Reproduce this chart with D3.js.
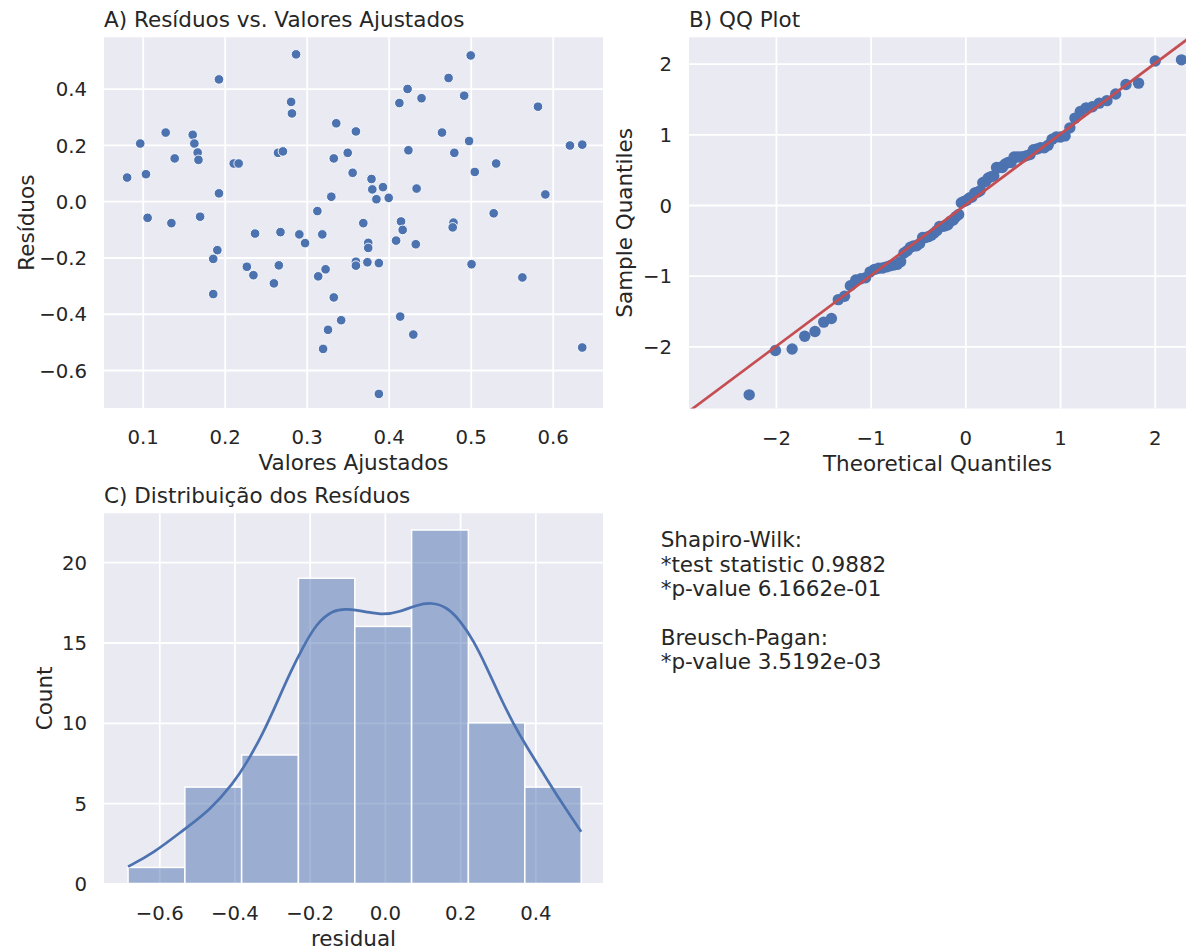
<!DOCTYPE html>
<html>
<head>
<meta charset="utf-8">
<script src="https://cdn.jsdelivr.net/npm/d3@7"></script>
<style>
  body { margin: 0; background: #fff; }
  svg text { font-family: "DejaVu Sans", sans-serif; fill: #262626; }
</style>
</head>
<body>
<svg id="container"></svg>
<script>
const width = 1186;
const height = 949;

// fitted values and residuals
const fitted = [0.081,0.097,0.104,0.106,0.128,0.135,0.139,0.161,0.163,0.167,
  0.168,0.170,0.193,0.193,0.191,0.186,0.186,0.211,0.217,0.227,
  0.235,0.237,0.260,0.265,0.271,0.266,0.268,0.281,0.282,0.287,
  0.291,0.298,0.313,0.319,0.314,0.323,0.320,0.326,0.330,0.333,
  0.336,0.333,0.342,0.350,0.356,0.360,0.360,0.360,0.369,0.375,
  0.375,0.374,0.379,0.380,0.385,0.393,0.400,0.388,0.388,0.409,
  0.413,0.415,0.417,0.423,0.424,0.434,0.433,0.414,0.430,0.440,
  0.465,0.473,0.479,0.478,0.480,0.492,0.498,0.500,0.501,0.505,
  0.528,0.531,0.563,0.582,0.591,0.621,0.636,0.636];
const resid = [0.084,0.205,0.096,-0.059,0.244,-0.078,0.152,0.236,0.205,0.173,
  0.147,-0.055,0.433,0.028,-0.174,-0.205,-0.330,0.134,0.134,-0.233,
  -0.263,-0.115,-0.292,0.172,0.177,-0.228,-0.110,0.353,0.312,0.522,
  -0.118,-0.149,-0.035,-0.118,-0.267,-0.242,-0.525,-0.457,0.016,0.152,
  0.277,-0.342,-0.423,0.172,0.101,0.248,-0.215,-0.229,-0.078,-0.148,
  -0.166,-0.217,0.079,0.042,0.007,0.050,0.012,-0.220,-0.685,-0.140,
  0.349,-0.072,-0.102,0.399,0.181,0.045,-0.153,-0.410,-0.474,0.366,
  0.244,0.438,-0.076,-0.093,0.172,0.375,0.214,0.518,-0.224,0.104,
  -0.043,0.134,-0.271,0.336,0.024,0.198,0.201,-0.520];

// histogram (panel C)
const binEdges = [-0.683,-0.532,-0.381,-0.230,-0.080,0.071,0.222,0.372,0.522];
const binCounts = [1,6,8,19,16,22,10,6];
const kdeX = [-0.683,-0.616,-0.536,-0.465,-0.403,-0.368,-0.324,-0.288,-0.253,-0.217,-0.182,
  -0.138,-0.102,-0.049,-0.005,0.040,0.084,0.124,0.164,0.199,0.235,0.270,0.306,0.341,0.377,0.421,0.465,0.522];
const kdeY = [1.05,1.88,3.33,4.57,6.24,7.48,9.35,11.21,13.08,14.74,16.19,
  17.02,17.10,16.91,16.71,16.91,17.33,17.50,17.22,16.40,15.15,13.49,11.62,9.97,8.51,6.86,5.20,3.22];

const ticksA_x = [0.1,0.2,0.3,0.4,0.5,0.6];
const ticksA_y = [-0.6,-0.4,-0.2,0.0,0.2,0.4];
const ticksB = [-2,-1,0,1,2];
const ticksC_x = [-0.6,-0.4,-0.2,0.0,0.2,0.4];
const ticksC_y = [0,5,10,15,20];

const statLines = ["Shapiro-Wilk:", "*test statistic 0.9882", "*p-value 6.1662e-01", "",
  "Breusch-Pagan:", "*p-value 3.5192e-03"];

const blue = "#4c72b0", red = "#c44e52", bg = "#eaeaf2";
const tickSize = 19.7, labelSize = 21.5;

const svg = d3.select("#container")
  .attr("width", width).attr("height", height)
  .attr("viewBox", [0, 0, width, height]);

// draws background, grid, tick labels, title and axis labels of one panel
function panel(box, x, y, xt, yt, xf, yf, title, xlabel, ylabel, ylabelX) {
  const g = svg.append("g");
  g.append("rect")
    .attr("x", box.left).attr("y", box.top)
    .attr("width", box.right - box.left).attr("height", box.bottom - box.top)
    .attr("fill", bg);
  g.append("g")
    .attr("transform", `translate(0,${box.bottom})`)
    .call(d3.axisBottom(x).tickValues(xt).tickFormat(d3.format(xf))
      .tickSize(-(box.bottom - box.top)).tickPadding(0))
    .call(a => a.select(".domain").remove())
    .call(a => a.selectAll(".tick line").attr("stroke", "#fff").attr("stroke-width", 1.8))
    .call(a => a.selectAll(".tick text")
      .attr("y", 29).attr("dy", "0.36em")
      .attr("font-size", tickSize).attr("fill", "#262626"));
  g.append("g")
    .attr("transform", `translate(${box.left},0)`)
    .call(d3.axisLeft(y).tickValues(yt).tickFormat(d3.format(yf))
      .tickSize(-(box.right - box.left)).tickPadding(0))
    .call(a => a.select(".domain").remove())
    .call(a => a.selectAll(".tick line").attr("stroke", "#fff").attr("stroke-width", 1.8))
    .call(a => a.selectAll(".tick text")
      .attr("x", -17).attr("dy", "0.36em")
      .attr("font-size", tickSize).attr("fill", "#262626"));
  svg.selectAll("g text").attr("font-family", null);

  svg.append("text")
    .attr("x", box.left).attr("y", box.top - 10.6)
    .attr("font-size", labelSize)
    .text(title);
  if (xlabel) svg.append("text")
    .attr("x", (box.left + box.right) / 2).attr("y", box.bottom + 62)
    .attr("text-anchor", "middle").attr("font-size", labelSize)
    .text(xlabel);
  svg.append("text")
    .attr("transform", `translate(${ylabelX},${(box.top + box.bottom) / 2}) rotate(-90)`)
    .attr("text-anchor", "middle").attr("font-size", labelSize)
    .text(ylabel);
  return g;
}

// ---- A) residuals vs fitted
const boxA = {left: 104, right: 603, top: 37.3, bottom: 408};
const xA = d3.scaleLinear().domain([0.0528, 0.6613]).range([boxA.left, boxA.right]);
const yA = d3.scaleLinear().domain([-0.735, 0.5826]).range([boxA.bottom, boxA.top]);
panel(boxA, xA, yA, ticksA_x, ticksA_y, ".1f", ".1f",
  "A) Resíduos vs. Valores Ajustados", "Valores Ajustados", "Resíduos", 34);
svg.append("g")
  .selectAll("circle")
  .data(d3.zip(fitted, resid))
  .join("circle")
  .attr("cx", d => xA(d[0]))
  .attr("cy", d => yA(d[1]))
  .attr("r", 4.8)
  .attr("fill", blue)
  .attr("stroke", "#fff")
  .attr("stroke-width", 0.9);

// ---- B) QQ plot
// inverse normal cdf (Acklam)
function normInv(p) {
  const a = [-3.969683028665376e+01, 2.209460984245205e+02, -2.759285104469687e+02, 1.383577518672690e+02, -3.066479806614716e+01, 2.506628277459239e+00];
  const b = [-5.447609879822406e+01, 1.615858368580409e+02, -1.556989798598866e+02, 6.680131188771972e+01, -1.328068155288572e+01];
  const c = [-7.784894002430293e-03, -3.223964580411365e-01, -2.400758277161838e+00, -2.549732539343734e+00, 4.374664141464968e+00, 2.938163982698783e+00];
  const dd = [7.784695709041462e-03, 3.224671290700398e-01, 2.445134137142996e+00, 3.754408661907416e+00];
  const pl = 0.02425;
  let q, r;
  if (p < pl) {
    q = Math.sqrt(-2 * Math.log(p));
    return (((((c[0]*q+c[1])*q+c[2])*q+c[3])*q+c[4])*q+c[5]) / ((((dd[0]*q+dd[1])*q+dd[2])*q+dd[3])*q+1);
  } else if (p <= 1 - pl) {
    q = p - 0.5; r = q * q;
    return (((((a[0]*r+a[1])*r+a[2])*r+a[3])*r+a[4])*r+a[5])*q / (((((b[0]*r+b[1])*r+b[2])*r+b[3])*r+b[4])*r+1);
  } else {
    q = Math.sqrt(-2 * Math.log(1 - p));
    return -(((((c[0]*q+c[1])*q+c[2])*q+c[3])*q+c[4])*q+c[5]) / ((((dd[0]*q+dd[1])*q+dd[2])*q+dd[3])*q+1);
  }
}
const n = resid.length;
const mu = d3.mean(resid);
const sd = Math.sqrt(d3.mean(resid, v => (v - mu) ** 2));
const qq = resid.slice().sort(d3.ascending)
  .map((v, i) => [normInv((i + 1) / (n + 1)), (v - mu) / sd]);

const boxB = {left: 689, right: 1186, top: 37.3, bottom: 408.5};
const xB = d3.scaleLinear().domain([-2.918, 2.33]).range([boxB.left, boxB.right]);
const yB = d3.scaleLinear().domain([-2.878, 2.372]).range([boxB.bottom, boxB.top]);
panel(boxB, xB, yB, ticksB, ticksB, "d", "d",
  "B) QQ Plot", "Theoretical Quantiles", "Sample Quantiles", 632);
svg.append("defs").append("clipPath").attr("id", "clipB")
  .append("rect")
  .attr("x", boxB.left).attr("y", boxB.top)
  .attr("width", boxB.right - boxB.left).attr("height", boxB.bottom - boxB.top);
svg.append("g")
  .selectAll("circle")
  .data(qq)
  .join("circle")
  .attr("cx", d => xB(d[0]))
  .attr("cy", d => yB(d[1]))
  .attr("r", 5.7)
  .attr("fill", blue);
svg.append("line")
  .attr("clip-path", "url(#clipB)")
  .attr("x1", xB(-3)).attr("y1", yB(-3))
  .attr("x2", xB(2.5)).attr("y2", yB(2.5))
  .attr("stroke", red).attr("stroke-width", 2.7);

// ---- C) histogram of residuals
const boxC = {left: 104, right: 603, top: 513.3, bottom: 883.5};
const xC = d3.scaleLinear().domain([-0.747, 0.580]).range([boxC.left, boxC.right]);
const yC = d3.scaleLinear().domain([0, 23.04]).range([boxC.bottom, boxC.top]);
panel(boxC, xC, yC, ticksC_x, ticksC_y, ".1f", "d",
  "C) Distribuição dos Resíduos", "residual", "Count", 52);
svg.append("g")
  .selectAll("rect")
  .data(binCounts)
  .join("rect")
  .attr("x", (d, i) => xC(binEdges[i]))
  .attr("width", (d, i) => xC(binEdges[i + 1]) - xC(binEdges[i]))
  .attr("y", d => yC(d))
  .attr("height", d => yC(0) - yC(d))
  .attr("fill", blue)
  .attr("fill-opacity", 0.5)
  .attr("stroke", "#fff")
  .attr("stroke-width", 1.5);
svg.append("path")
  .datum(d3.zip(kdeX, kdeY))
  .attr("fill", "none")
  .attr("stroke", blue)
  .attr("stroke-width", 2.7)
  .attr("d", d3.line()
    .x(d => xC(d[0]))
    .y(d => yC(d[1]))
    .curve(d3.curveBasis));

// ---- test statistics text
svg.append("text")
  .attr("x", 660.7).attr("y", 547.3)
  .attr("font-size", labelSize)
  .selectAll("tspan")
  .data(statLines)
  .join("tspan")
  .attr("x", 660.7)
  .attr("dy", (d, i) => i === 0 ? 0 : 24.4)
  .text(d => d || "\u00a0");
</script>
</body>
</html>
